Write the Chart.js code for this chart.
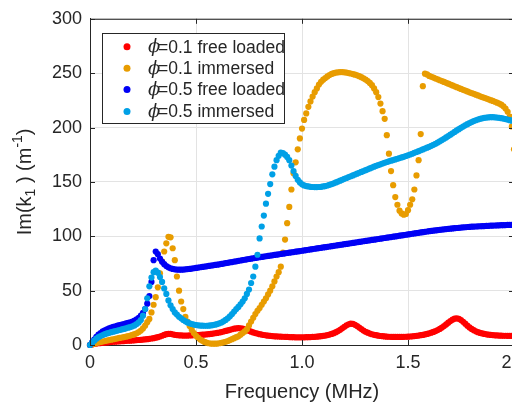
<!DOCTYPE html>
<html>
<head>
<meta charset="utf-8">
<script src="https://cdn.jsdelivr.net/npm/chart.js@4.4.0/dist/chart.umd.min.js"></script>
<style>
html,body{margin:0;padding:0;background:#fff;overflow:hidden;width:512px;height:406px;}
#c{display:block;}
</style>
</head>
<body>
<canvas id="c" width="540" height="406"></canvas>
<script>
// Frequency samples (MHz)
const freqMHz = [
0,0.01,0.02,0.03,0.04,0.05,0.06,0.07,0.08,0.09,
0.1,0.11,0.12,0.13,0.14,0.15,0.16,0.17,0.18,0.19,
0.2,0.21,0.22,0.23,0.24,0.25,0.26,0.27,0.28,0.29,
0.3,0.31,0.32,0.33,0.34,0.35,0.36,0.37,0.38,0.39,
0.4,0.41,0.42,0.43,0.44,0.45,0.46,0.47,0.48,0.49,
0.5,0.51,0.52,0.53,0.54,0.55,0.56,0.57,0.58,0.59,
0.6,0.61,0.62,0.63,0.64,0.65,0.66,0.67,0.68,0.69,
0.7,0.71,0.72,0.73,0.74,0.75,0.76,0.77,0.78,0.79,
0.8,0.81,0.82,0.83,0.84,0.85,0.86,0.87,0.88,0.89,
0.9,0.91,0.92,0.93,0.94,0.95,0.96,0.97,0.98,0.99,
1,1.01,1.02,1.03,1.04,1.05,1.06,1.07,1.08,1.09,
1.1,1.11,1.12,1.13,1.14,1.15,1.16,1.17,1.18,1.19,
1.2,1.21,1.22,1.23,1.24,1.25,1.26,1.27,1.28,1.29,
1.3,1.31,1.32,1.33,1.34,1.35,1.36,1.37,1.38,1.39,
1.4,1.41,1.42,1.43,1.44,1.45,1.46,1.47,1.48,1.49,
1.5,1.51,1.52,1.53,1.54,1.55,1.56,1.57,1.58,1.59,
1.6,1.61,1.62,1.63,1.64,1.65,1.66,1.67,1.68,1.69,
1.7,1.71,1.72,1.73,1.74,1.75,1.76,1.77,1.78,1.79,
1.8,1.81,1.82,1.83,1.84,1.85,1.86,1.87,1.88,1.89,
1.9,1.91,1.92,1.93,1.94,1.95,1.96,1.97,1.98,1.99,2
];

// phi=0.1 free loaded
const phi01Free = [
0,0.5,1,1.3,1.6,1.8,2,2.2,2.4,2.6,
2.8,3,3.1,3.2,3.4,3.5,3.6,3.8,3.9,4,
4.2,4.3,4.5,4.6,4.8,5,5.2,5.4,5.7,6,
6.3,6.7,7.2,7.8,8.5,9.3,10,10.3,10.2,9.8,
9.4,9.1,8.9,8.8,8.7,8.7,8.7,8.8,8.9,9,
9.1,9.2,9.3,9.5,9.6,9.8,10,10.2,10.5,10.8,
11.1,11.5,11.9,12.4,12.9,13.4,14,14.5,15,15.3,
15.5,15.4,15,14.4,13.7,13,12.3,11.6,11,10.5,
10,9.6,9.2,8.9,8.6,8.4,8.2,8,7.9,7.8,
7.7,7.6,7.5,7.4,7.3,7.2,7.2,7.1,7.1,7.1,
7.1,7.1,7.2,7.2,7.3,7.4,7.5,7.7,7.9,8.1,
8.4,8.7,9.1,9.6,10.2,10.9,11.8,12.8,14,15.4,
16.8,18.1,19.1,19.6,19.4,18.6,17.4,16,14.6,13.3,
12.2,11.3,10.5,9.9,9.4,9,8.6,8.3,8.1,7.9,
7.7,7.6,7.5,7.4,7.4,7.4,7.4,7.4,7.5,7.6,
7.7,7.8,8,8.2,8.4,8.7,9,9.3,9.7,10.2,
10.7,11.3,12,12.8,13.7,14.8,16,17.4,18.9,20.5,
22,23.3,24.2,24.5,24.1,23,21.4,19.6,17.8,16.2,
14.8,13.6,12.6,11.8,11.1,10.6,10.2,9.8,9.5,9.3,
9.1,8.9,8.8,8.7,8.6,8.5,8.5,8.4,8.4,8.4,8.4
];

// phi=0.1 immersed
const phi01Imm = [
0,0.6,1.2,1.8,2.3,2.8,3.2,3.7,4.1,4.5,
4.9,5.3,5.7,6.1,6.5,6.9,7.3,7.7,8.2,8.7,
9.3,10,10.8,11.9,13.3,15.2,17.8,21,24,30,
37,44,53,66,77,86,93.5,99.5,99,89,
78,63,50,40,33,26,21.5,17.5,14,11,
8.5,6.5,5,3.8,2.8,2.1,1.6,1.3,1.2,1.2,
1.3,1.6,2,2.5,3,3.7,4.5,5.4,6.3,7.2,
8,9.5,11,12.5,14.5,18,21.5,25,28.5,31.5,
34,37,40,43,46.5,50,54,58.5,63,67,
72,85,97,112,127,143,158,168,180,190,
199,207,213,219,224,228.5,232.5,236,239.5,242,
244,245.5,247,248.3,249.3,250,250.5,250.8,251,251,
250.8,250.5,250.1,249.7,249.2,248.6,248,247.2,246.3,245.3,
244.1,242.7,241,239,236,232.5,228,222,215,208,
193,176,160,147,136,129,123.5,121,119.8,120.5,
124,129,134,143,156,170,194,238,249.5,248.8,
247.5,246.7,245.9,245.1,244.3,243.5,242.7,241.9,241.1,240.3,
239.5,238.7,237.9,237.1,236.3,235.5,234.7,234,233.2,232.4,
231.7,231,230.2,229.5,228.7,228,227.3,226.6,225.9,225.2,
224.5,223.7,222.9,222,221,219.5,217.5,214.5,210,201,180
];

// phi=0.5 free loaded
const phi05Free = [
0,2.5,5,7.5,9.5,11,12.5,13.5,14.5,15.3,
16,16.6,17.2,17.8,18.3,18.8,19.3,19.8,20.3,20.9,
21.6,22.5,23.6,25,27,29.5,33,38,45,58,
78,86,83.5,79.5,76.5,74.3,72.6,71.4,70.6,70,
69.6,69.4,69.3,69.3,69.4,69.6,69.8,70,70.3,70.6,
70.9,71.2,71.5,71.8,72.1,72.4,72.7,73,73.3,73.6,
73.9,74.2,74.6,74.9,75.3,75.6,76,76.3,76.7,77,
77.4,77.7,78.1,78.4,78.8,79.1,79.4,79.8,80.1,80.4,
80.7,81,81.3,81.6,81.9,82.2,82.5,82.8,83.1,83.4,
83.7,84,84.3,84.6,84.9,85.2,85.5,85.8,86.1,86.4,
86.7,87,87.3,87.6,87.9,88.2,88.5,88.8,89.1,89.4,
89.7,90,90.3,90.6,90.9,91.2,91.5,91.8,92.1,92.4,
92.7,93,93.3,93.6,93.9,94.2,94.5,94.8,95.1,95.4,
95.7,96,96.3,96.6,96.9,97.2,97.5,97.8,98.1,98.4,
98.7,99,99.3,99.6,99.9,100.2,100.5,100.8,101.1,101.4,
101.7,102,102.3,102.6,102.9,103.2,103.5,103.8,104.1,104.4,
104.7,104.9,105.2,105.4,105.7,105.9,106.2,106.4,106.6,106.8,
107,107.2,107.4,107.6,107.8,108,108.2,108.3,108.5,108.6,
108.8,108.9,109,109.1,109.2,109.3,109.4,109.5,109.6,109.7,
109.8,109.9,110,110.1,110.2,110.2,110.3,110.4,110.4,110.5,110.5
];

// phi=0.5 immersed
const phi05Imm = [
0,2,4,5.8,7.2,8.3,9.2,10,10.6,11.2,
11.8,12.3,12.8,13.3,13.8,14.3,14.8,15.3,15.9,16.5,
17.2,18,19.2,20.8,23,27,33,43,54,62,
67,68.5,66.5,62.5,58,52,47,41,36.5,33,
30,28,26,24.5,23,21.8,20.8,20,19.3,18.8,
18.4,18.1,17.9,17.8,17.7,17.7,17.8,18,18.3,18.7,
19.2,19.9,20.7,21.8,23.1,24.6,26.4,28.4,30.8,33,
35,37.5,40,43,47,51,57,63,72,83,
98,109,119,130,139,148,157,164,170,174,
177,176.5,175,173,170,165,160,155.5,152,149.5,
147.8,146.8,146.2,145.8,145.5,145.3,145.2,145.2,145.3,145.5,
145.8,146.2,146.7,147.3,148,148.7,149.5,150.3,151.1,152,
152.8,153.6,154.4,155.2,156,156.8,157.6,158.4,159.2,160,
160.8,161.6,162.4,163.2,164,164.8,165.5,166.2,166.9,167.6,
168.3,168.9,169.5,170.1,170.7,171.3,171.9,172.5,173.1,173.8,
174.5,175.2,175.9,176.7,177.5,178.3,179.1,179.9,180.7,181.5,
182.3,183.2,184.1,185.1,186.2,187.3,188.5,189.7,190.9,192.1,
193.4,194.7,196,197.3,198.5,199.7,200.9,202,203.1,204.1,
205,205.9,206.7,207.4,208,208.5,208.9,209.2,209.4,209.5,
209.5,209.4,209.2,208.9,208.6,208.2,207.8,207.3,206.8,206.3,205.8
];

const seriesLabels = ['=0.1 free loaded', '=0.1 immersed', '=0.5 free loaded', '=0.5 immersed'];
const seriesColors = ['#FF0000', '#E89C00', '#0000F5', '#00A0E6'];
const seriesValues = [phi01Free, phi01Imm, phi05Free, phi05Imm];
const xTicks = [0, 0.5, 1, 1.5, 2];
const yTicks = [0, 50, 100, 150, 200, 250, 300];

const FONT = '"Liberation Sans", Arial, Helvetica, sans-serif';
const AXIS = '#262626';
const GRID = '#e3e3e3';

const datasets = seriesValues.map((vals, k) => ({
  label: 'ϕ' + seriesLabels[k],
  data: vals.map((v, i) => ({x: freqMHz[i], y: v})),
  backgroundColor: seriesColors[k],
  borderWidth: 0,
  pointRadius: 3.1,
  pointHoverRadius: 3.1,
  showLine: false,
  clip: false,
  order: 3 - k
}));

const deco = {
  id: 'deco',
  afterDraw(chart) {
    const {ctx, chartArea: a, scales: {x, y}} = chart;
    ctx.save();
    ctx.strokeStyle = AXIS;
    ctx.lineWidth = 1;
    ctx.beginPath();
    ctx.moveTo(a.left, a.top + 0.5); ctx.lineTo(a.right, a.top + 0.5);
    ctx.moveTo(a.right - 0.5, a.top); ctx.lineTo(a.right - 0.5, a.bottom);
    ctx.stroke();
    ctx.beginPath();
    const tl = 5;
    x.ticks.forEach(t => {
      const px = Math.round(x.getPixelForValue(t.value)) + 0.5;
      ctx.moveTo(px, a.bottom); ctx.lineTo(px, a.bottom - tl);
      ctx.moveTo(px, a.top); ctx.lineTo(px, a.top + tl);
    });
    y.ticks.forEach(t => {
      const py = Math.round(y.getPixelForValue(t.value)) + 0.5;
      ctx.moveTo(a.left, py); ctx.lineTo(a.left + tl, py);
      ctx.moveTo(a.right, py); ctx.lineTo(a.right - tl, py);
    });
    ctx.stroke();

    ctx.save();
    ctx.translate(25, (a.top + a.bottom) / 2);
    ctx.rotate(-Math.PI / 2);
    ctx.fillStyle = AXIS;
    ctx.textBaseline = 'middle';
    ctx.textAlign = 'left';
    const big = '20px ' + FONT, small = '14px ' + FONT;
    const parts = [
      {t: 'Im(k', f: big, dy: 0},
      {t: '1', f: small, dy: 6},
      {t: ' ) (m', f: big, dy: 0},
      {t: '-1', f: small, dy: -7},
      {t: ')', f: big, dy: 0}
    ];
    let w = 0;
    parts.forEach(p => { ctx.font = p.f; p.w = ctx.measureText(p.t).width; w += p.w; });
    let cx = -w / 2;
    parts.forEach(p => { ctx.font = p.f; ctx.fillText(p.t, cx, p.dy); cx += p.w; });
    ctx.restore();

    const lx = 102.5, ly = 33.5, lw = 182, lh = 90;
    ctx.fillStyle = '#ffffff';
    ctx.fillRect(lx, ly, lw, lh);
    ctx.strokeStyle = AXIS;
    ctx.strokeRect(lx, ly, lw, lh);
    const rows = [46.7, 68.3, 89.5, 111.5];
    chart.data.datasets.forEach((ds, k) => {
      const ry = rows[k];
      ctx.fillStyle = ds.backgroundColor;
      ctx.beginPath();
      ctx.arc(127, ry, 3.5, 0, Math.PI * 2);
      ctx.fill();
      ctx.fillStyle = AXIS;
      ctx.textBaseline = 'middle';
      ctx.textAlign = 'left';
      ctx.font = 'italic 18px "DejaVu Serif", "Liberation Serif", serif';
      ctx.fillText('ϕ', 148, ry + 1);
      ctx.font = '17.5px ' + FONT;
      ctx.fillText(seriesLabels[k], 158, ry + 1);
    });
    ctx.restore();
  }
};

new Chart(document.getElementById('c'), {
  type: 'scatter',
  data: {datasets},
  options: {
    responsive: false,
    animation: false,
    events: [],
    layout: {padding: {top: 15, right: 26, left: 0, bottom: 0}},
    plugins: {legend: {display: false}, tooltip: {enabled: false}},
    scales: {
      x: {
        type: 'linear', min: xTicks[0], max: xTicks[xTicks.length - 1],
        afterBuildTicks: s => { s.ticks = xTicks.map(v => ({value: v})); },
        ticks: {color: AXIS, font: {family: FONT, size: 18}, padding: 7, maxRotation: 0, autoSkip: false},
        grid: {color: GRID, drawTicks: false},
        border: {color: AXIS, width: 1},
        title: {display: true, text: 'Frequency (MHz)', color: AXIS, font: {family: FONT, size: 20}, padding: {top: 0, bottom: 2}},
        afterFit: s => { s.height = 61; }
      },
      y: {
        type: 'linear', min: yTicks[0], max: yTicks[yTicks.length - 1],
        afterBuildTicks: s => { s.ticks = yTicks.map(v => ({value: v})); },
        ticks: {color: AXIS, font: {family: FONT, size: 18}, padding: 8, autoSkip: false},
        grid: {color: GRID, drawTicks: false},
        border: {color: AXIS, width: 1},
        afterFit: s => { s.width = 90; }
      }
    }
  },
  plugins: [deco]
});
</script>
</body>
</html>
